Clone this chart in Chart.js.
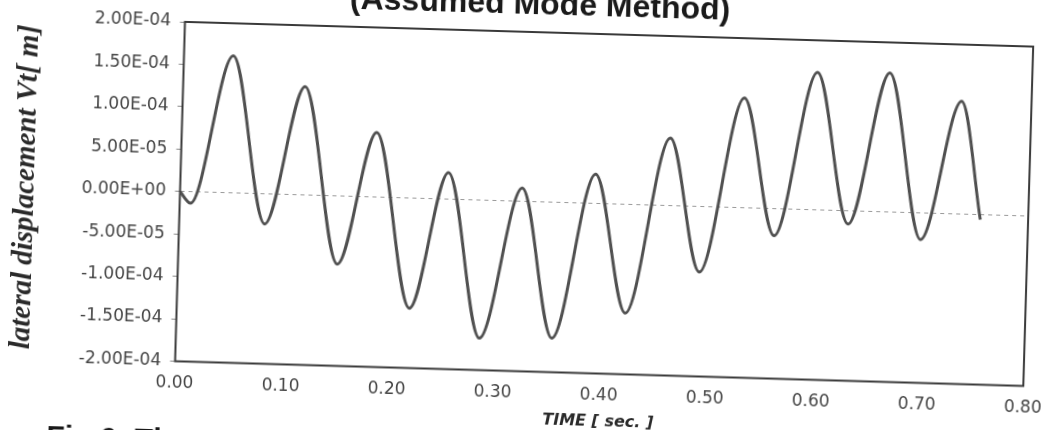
<!DOCTYPE html>
<html>
<head>
<meta charset="utf-8">
<script src="https://cdn.jsdelivr.net/npm/chart.js@4.4.1/dist/chart.umd.min.js"></script>
<style>
  html, body { margin: 0; padding: 0; background: #ffffff; overflow: hidden; width: 1059px; height: 430px; }
  #page { position: relative; width: 1059px; height: 430px; overflow: hidden; }
  #sheet { position: absolute; left: 0; top: -40px; width: 1059px; height: 510px;
           transform: rotate(1.67deg); transform-origin: 529.5px 255px; }
</style>
</head>
<body>
<div id="page"><div id="sheet"><canvas id="c" width="1059" height="510"></canvas></div></div>
<script>
// ---- data (time in s, lateral displacement in m) ----
const timeSec = [0, 0.0102, 0.0465, 0.0806, 0.1150, 0.1502, 0.1838, 0.2193, 0.2525, 0.2861, 0.3224, 0.3544,
                 0.3912, 0.4229, 0.4606, 0.4915, 0.5293, 0.5610, 0.5975, 0.6304, 0.6657, 0.6991, 0.7341, 0.7549];
const displacement = [0, -1.34e-5, 1.616e-4, -3.52e-5, 1.279e-4, -8.01e-5, 7.63e-5, -1.295e-4, 3.16e-5, -1.624e-4,
                      1.58e-5, -1.599e-4, 3.49e-5, -1.279e-4, 7.99e-5, -7.70e-5, 1.295e-4, -3.16e-5, 1.623e-4,
                      -1.53e-5, 1.640e-4, -3.12e-5, 1.330e-4, -5.7e-6];
const xTickLabels = ['0.00', '0.10', '0.20', '0.30', '0.40', '0.50', '0.60', '0.70', '0.80'];
const yTickLabels = ['-2.00E-04', '-1.50E-04', '-1.00E-04', '-5.00E-05', '0.00E+00',
                     '5.00E-05', '1.00E-04', '1.50E-04', '2.00E-04'];
const chartTitle = '(Assumed Mode Method)';
const xAxisTitle = 'TIME [ sec. ]';
const yAxisTitle = 'lateral displacement Vt[ m]';
const captionText = 'Fig.6: The';

const points = timeSec.map((t, i) => ({ x: t, y: displacement[i] }));

const framePlugin = {
  id: 'frame',
  beforeDatasetsDraw(chart) {
    const a = chart.chartArea, ctx = chart.ctx;
    ctx.save();
    ctx.strokeStyle = '#3a3a3a';
    ctx.lineWidth = 2;
    ctx.strokeRect(a.left, a.top, a.right - a.left, a.bottom - a.top);
    ctx.restore();
  },
  afterDraw(chart) {
    const ctx = chart.ctx;
    ctx.save();
    ctx.fillStyle = '#1a1a1a';
    ctx.textBaseline = 'alphabetic';
    ctx.font = 'bold 32px "Liberation Sans", Arial, sans-serif';
    ctx.textAlign = 'center';
    ctx.fillText(chartTitle, 534, 54);
    ctx.font = 'bold 30px "Liberation Sans", Arial, sans-serif';
    ctx.textAlign = 'left';
    ctx.fillText(captionText, 53, 500);
    ctx.restore();
  }
};

new Chart(document.getElementById('c'), {
  type: 'line',
  data: {
    datasets: [{
      data: points,
      borderColor: '#505050',
      borderWidth: 3,
      pointRadius: 0,
      fill: false,
      cubicInterpolationMode: 'monotone'
    }]
  },
  options: {
    responsive: false,
    animation: false,
    devicePixelRatio: 1,
    layout: { padding: { left: 0, right: 20, top: 72, bottom: 0 } },
    plugins: {
      legend: { display: false },
      tooltip: { enabled: false },
      title: { display: false }
    },
    scales: {
      x: {
        type: 'linear',
        min: 0, max: 0.8,
        border: { display: false },
        grid: { display: false, drawTicks: false },
        ticks: {
          stepSize: 0.1,
          padding: 12,
          color: '#454545',
          font: { family: '"DejaVu Sans", sans-serif', size: 17 },
          maxRotation: 0,
          callback: (v, i) => xTickLabels[i]
        },
        title: {
          display: true,
          text: xAxisTitle,
          color: '#2a2a2a',
          font: { family: '"DejaVu Sans", sans-serif', size: 16, weight: 'bold', style: 'italic' },
          padding: { top: 0, bottom: 41 }
        },
        afterFit: s => { s.height = 98.5; }
      },
      y: {
        type: 'linear',
        min: -2e-4, max: 2e-4,
        border: { display: false, dash: [4, 4] },
        grid: {
          drawTicks: true,
          tickLength: 5,
          lineWidth: 1,
          color: c => (c.tick && Math.abs(c.tick.value) < 1e-12) ? '#9a9a9a' : 'rgba(0,0,0,0)',
          tickColor: '#8a8a8a'
        },
        ticks: {
          stepSize: 5e-5,
          padding: 9,
          color: '#454545',
          font: { family: '"DejaVu Sans", sans-serif', size: 17 },
          callback: (v, i) => yTickLabels[i]
        },
        title: {
          display: true,
          text: yAxisTitle,
          color: '#2a2a2a',
          font: { family: '"Liberation Serif", "Times New Roman", serif', size: 29, weight: 'bold', style: 'italic' },
          padding: { top: 8, bottom: 0 }
        },
        afterFit: s => { s.width = 179.5; }
      }
    }
  },
  plugins: [framePlugin]
});
</script>
</body>
</html>
